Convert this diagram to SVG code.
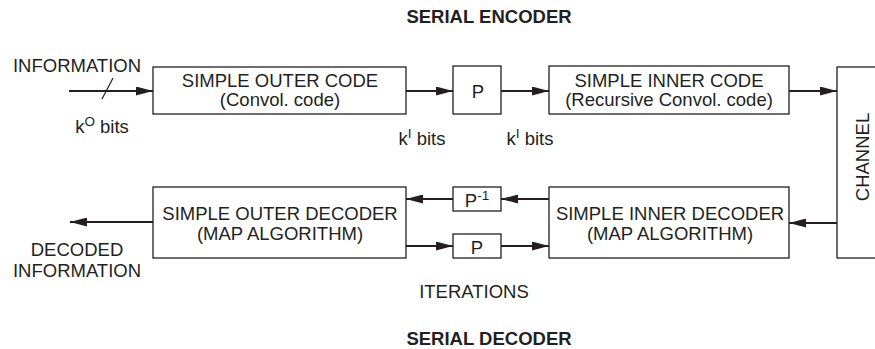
<svg xmlns="http://www.w3.org/2000/svg" width="875" height="349" viewBox="0 0 875 349">
<style>
  .box { fill: #fff; stroke: #231f20; stroke-width: 1.3; }
  .ln { stroke: #231f20; stroke-width: 2; fill: none; }
  .t { font-family: "Liberation Sans", Arial, sans-serif; font-size: 18.5px; fill: #231f20; text-anchor: middle; }
  .h { font-family: "Liberation Sans", Arial, sans-serif; font-size: 18.5px; font-weight: bold; fill: #231f20; text-anchor: middle; }
  .sup { font-size: 13.5px; }
</style>
<defs>
  <marker id="arr" markerWidth="17" markerHeight="9" refX="17" refY="4.5" orient="auto" markerUnits="userSpaceOnUse">
    <path d="M0,0 L17,4.5 L0,9 z" fill="#231f20"/>
  </marker>
</defs>
<rect width="875" height="349" fill="#fff"/>

<text class="h" x="489" y="23">SERIAL ENCODER</text>
<text class="h" x="489" y="345">SERIAL DECODER</text>

<g id="connectors">
  <line class="ln" x1="69" y1="91" x2="153" y2="91" marker-end="url(#arr)"/>
  <line x1="102" y1="99" x2="113" y2="78" stroke="#231f20" stroke-width="1.2"/>
  <line class="ln" x1="406" y1="91" x2="453" y2="91" marker-end="url(#arr)"/>
  <line class="ln" x1="501" y1="91" x2="549" y2="91" marker-end="url(#arr)"/>
  <line class="ln" x1="789" y1="91" x2="837" y2="91" marker-end="url(#arr)"/>
  <line class="ln" x1="837" y1="223" x2="789" y2="223" marker-end="url(#arr)"/>
  <line class="ln" x1="549" y1="199" x2="501" y2="199" marker-end="url(#arr)"/>
  <line class="ln" x1="453" y1="199" x2="406" y2="199" marker-end="url(#arr)"/>
  <line class="ln" x1="406" y1="246" x2="453" y2="246" marker-end="url(#arr)"/>
  <line class="ln" x1="501" y1="246" x2="549" y2="246" marker-end="url(#arr)"/>
  <line class="ln" x1="153" y1="222" x2="70" y2="222" marker-end="url(#arr)"/>
</g>

<g id="info-in">
  <text class="t" x="77" y="72">INFORMATION</text>
  <text class="t" x="102" y="133">k<tspan class="sup" dy="-7">O</tspan><tspan dy="7"> bits</tspan></text>
</g>

<g id="outer-code">
  <rect class="box" x="153" y="67" width="253" height="47"/>
  <text class="t" x="280" y="87">SIMPLE OUTER CODE</text>
  <text class="t" x="280" y="106">(Convol. code)</text>
</g>

<g id="perm-enc">
  <rect class="box" x="453" y="66" width="48" height="48"/>
  <text class="t" x="478" y="98">P</text>
</g>

<text class="t" x="422" y="145">k<tspan class="sup" dy="-7">I</tspan><tspan dy="7"> bits</tspan></text>
<text class="t" x="530" y="145">k<tspan class="sup" dy="-7">I</tspan><tspan dy="7"> bits</tspan></text>

<g id="inner-code">
  <rect class="box" x="549" y="66" width="240" height="48"/>
  <text class="t" x="669" y="87">SIMPLE INNER CODE</text>
  <text class="t" x="669" y="106">(Recursive Convol. code)</text>
</g>

<g id="channel">
  <rect class="box" x="837" y="67" width="45" height="191"/>
  <text class="t" transform="translate(869,157) rotate(-90)">CHANNEL</text>
</g>

<g id="inner-decoder">
  <rect class="box" x="549" y="187" width="240" height="71"/>
  <text class="t" x="670" y="220">SIMPLE INNER DECODER</text>
  <text class="t" x="670" y="240">(MAP ALGORITHM)</text>
</g>

<g id="deperm">
  <rect class="box" x="453" y="187" width="48" height="24"/>
  <text class="t" x="477" y="207">P<tspan class="sup" dy="-7">-1</tspan></text>
</g>

<g id="perm-dec">
  <rect class="box" x="453" y="234" width="48" height="24"/>
  <text class="t" x="477" y="254">P</text>
</g>

<g id="outer-decoder">
  <rect class="box" x="153" y="187" width="253" height="71"/>
  <text class="t" x="280" y="220">SIMPLE OUTER DECODER</text>
  <text class="t" x="280" y="240">(MAP ALGORITHM)</text>
</g>

<g id="info-out">
  <text class="t" x="77" y="256">DECODED</text>
  <text class="t" x="77" y="277">INFORMATION</text>
</g>

<text class="t" x="474" y="298">ITERATIONS</text>
</svg>
